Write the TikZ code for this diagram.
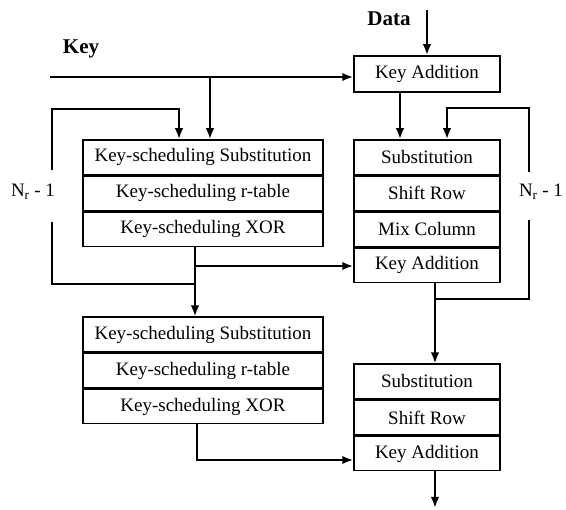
\documentclass[tikz,border=0pt]{standalone}
\usepackage{fontspec}
\setmainfont{Liberation Serif}
\usetikzlibrary{positioning,arrows.meta}

\begin{document}
\begin{tikzpicture}[x=1pt, y=-1pt,
        every node/.style={font=\fontsize{19}{21}\selectfont},
        stage/.style={rectangle, draw, line width=1.5pt, minimum height=34.5pt, inner sep=0pt},
        ksbox/.style={stage, minimum width=240pt},
        rdbox/.style={stage, minimum width=146pt},
        flow/.style={line width=2.6pt, -{Latex[length=11pt,width=8.5pt]}},
        wire/.style={line width=2.6pt},
        title/.style={font=\bfseries\fontsize{21}{23}\selectfont}]
    \useasboundingbox (0,0) rectangle (566,510);
    % key schedule, first round
    \node[ksbox] (ks1) at (203,157.25) {Key-scheduling Substitution};
    \node[ksbox, below=0pt of ks1] (ks2) {Key-scheduling r-table};
    \node[ksbox, below=0pt of ks2] (ks3) {Key-scheduling XOR};
    % key schedule, last round
    \node[ksbox] (ks4) at (203,334.5) {Key-scheduling Substitution};
    \node[ksbox, below=0pt of ks4] (ks5) {Key-scheduling r-table};
    \node[ksbox, below=0pt of ks5] (ks6) {Key-scheduling XOR};
    % data path
    \node[rdbox, minimum height=36pt] (ka0) at (427,74) {Key Addition};
    \node[rdbox] (rd1) at (427,157.25) {Substitution};
    \node[rdbox, below=0pt of rd1] (rd2) {Shift Row};
    \node[rdbox, below=0pt of rd2] (rd3) {Mix Column};
    \node[rdbox, below=0pt of rd3] (rd4) {Key Addition};
    \node[rdbox] (rf1) at (427,381.5) {Substitution};
    \node[rdbox, below=0pt of rf1] (rf2) {Shift Row};
    \node[rdbox, below=0pt of rf2] (rf3) {Key Addition};
    % labels
    \node[title] (key) at (81,49) {Key};
    \node[title] (data) at (389,19) {Data};
    \node (nl) at (33,192) {N\textsubscript{r} - 1};
    \node (nr) at (541,192) {N\textsubscript{r} - 1};
    % inputs
    \coordinate (datain) at (427,10);
    \coordinate (keyin) at (50,77);
    \coordinate (kb) at (210,77);
    \draw[flow] (datain) -- (ka0.north);
    \draw[flow] (keyin) -- (keyin -| ka0.west);
    \draw[flow] (kb) -- (kb |- ks1.north);
    % left loop
    \coordinate (lbr) at (195,266);
    \coordinate (lj) at (195,284);
    \coordinate (lup) at (52,222);
    \coordinate (ldn) at (52,170);
    \coordinate (ltop) at (179,109);
    \draw[flow] (lbr |- ks3.south) -- (lbr |- ks4.north);
    \draw[flow] (lbr) -- (lbr -| rd4.west);
    \draw[wire] (lj) -| (lup);
    \draw[flow] (ldn) |- (ltop) -- (ltop |- ks1.north);
    % right loop
    \coordinate (kd) at (400,100);
    \coordinate (rx) at (435,299);
    \coordinate (rup) at (529,220);
    \coordinate (rdn) at (529,172);
    \coordinate (rtop) at (447,108);
    \draw[flow] (ka0.south -| kd) -- (kd |- rd1.north);
    \draw[flow] (rx |- rd4.south) -- (rx |- rf1.north);
    \draw[wire] (rx) -| (rup);
    \draw[flow] (rdn) |- (rtop) -- (rtop |- rd1.north);
    % last round
    \coordinate (lb) at (197,460);
    \coordinate (out) at (435,508);
    \draw[flow] (lb |- ks6.south) -- (lb) -- (lb -| rf3.west);
    \draw[flow] (out |- rf3.south) -- (out);
\end{tikzpicture}
\end{document}
